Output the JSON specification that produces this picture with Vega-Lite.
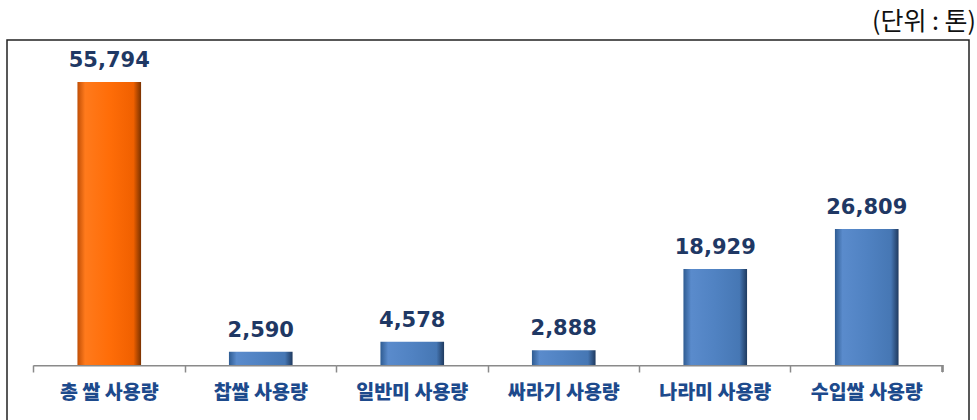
{
  "$schema": "https://vega.github.io/schema/vega-lite/v6.json",
  "autosize": {"type": "none"},
  "padding": {"left": 7, "top": 40, "right": 8, "bottom": 0},
  "width": 962,
  "height": 385,
  "background": "white",
  "title": {
    "text": "(단위 : 톤)",
    "anchor": "end",
    "orient": "top",
    "font": "Noto Sans CJK KR",
    "fontSize": 25,
    "fontWeight": "normal",
    "color": "#111111",
    "offset": 5,
    "dx": 7
  },
  "config": {
    "view": {"stroke": "#222222", "strokeWidth": 1.5},
    "axis": {"grid": false}
  },
  "data": {
    "values": [
      {"category": "총 쌀 사용량", "value": 55794},
      {"category": "찹쌀 사용량", "value": 2590},
      {"category": "일반미 사용량", "value": 4578},
      {"category": "싸라기 사용량", "value": 2888},
      {"category": "나라미 사용량", "value": 18929},
      {"category": "수입쌀 사용량", "value": 26809}
    ]
  },
  "encoding": {
    "x": {
      "field": "category",
      "type": "nominal",
      "sort": null,
      "scale": {"paddingInner": 0, "paddingOuter": 0.175},
      "axis": {
        "title": null,
        "domain": false,
        "offset": -60,
        "bandPosition": 0,
        "ticks": true,
        "tickSize": 7,
        "tickColor": "#8a8a8a",
        "tickWidth": 1.5,
        "labelPadding": 11,
        "labelFont": "Noto Sans CJK KR",
        "labelFontSize": 19.5,
        "labelFontWeight": 900,
        "labelColor": "#1d4a8c",
        "labelAngle": 0
      }
    }
  },
  "layer": [
    {
      "mark": {"type": "bar", "color": "#8a8a8a", "width": {"band": 1}},
      "encoding": {
        "y": {"datum": 0, "type": "quantitative", "scale": {"domain": [-11830, 64076], "zero": false, "nice": false}, "axis": null},
        "y2": {"datum": -300}
      }
    },
    {
      "mark": {"type": "rule", "color": "#8a8a8a", "strokeWidth": 1.5},
      "encoding": {
        "x": {"datum": "수입쌀 사용량", "bandPosition": 1},
        "y": {"datum": 0, "type": "quantitative"},
        "y2": {"datum": -1400}
      }
    },
    {
      "transform": [{"filter": "datum.category === '총 쌀 사용량'"}],
      "mark": {
        "type": "bar",
        "width": {"band": 0.42},
        "color": {
          "gradient": "linear", "x1": 0, "x2": 1, "y1": 0, "y2": 0,
          "stops": [
            {"offset": 0, "color": "#c04e05"},
            {"offset": 0.12, "color": "#ff7a1c"},
            {"offset": 0.5, "color": "#ff6d08"},
            {"offset": 0.88, "color": "#f06000"},
            {"offset": 1, "color": "#7a3200"}
          ]
        }
      },
      "encoding": {"y": {"field": "value", "type": "quantitative"}}
    },
    {
      "transform": [{"filter": "datum.category !== '총 쌀 사용량'"}],
      "mark": {
        "type": "bar",
        "width": {"band": 0.42},
        "color": {
          "gradient": "linear", "x1": 0, "x2": 1, "y1": 0, "y2": 0,
          "stops": [
            {"offset": 0, "color": "#2f5c92"},
            {"offset": 0.12, "color": "#5a8bcc"},
            {"offset": 0.5, "color": "#5082c2"},
            {"offset": 0.88, "color": "#4677b4"},
            {"offset": 1, "color": "#1f3a5f"}
          ]
        }
      },
      "encoding": {"y": {"field": "value", "type": "quantitative"}}
    },
    {
      "mark": {
        "type": "text",
        "font": "DejaVu Sans",
        "fontSize": 21,
        "fontWeight": "bold",
        "color": "#1f3864",
        "baseline": "alphabetic",
        "dy": -15
      },
      "encoding": {
        "y": {"field": "value", "type": "quantitative"},
        "text": {"field": "value", "type": "quantitative", "format": ","}
      }
    }
  ]
}
